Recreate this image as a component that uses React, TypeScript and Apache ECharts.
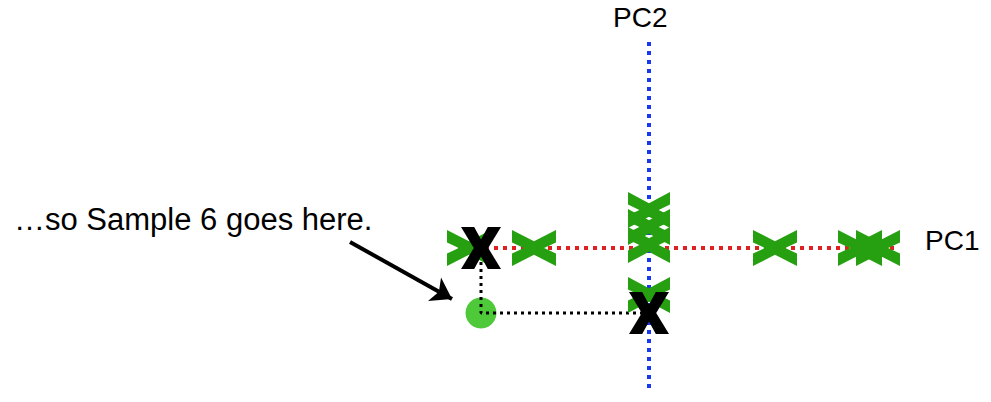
import React, { useEffect, useRef } from "react";
import * as echarts from "echarts";

// Sample projections (PC score units)
const pc1Scores = [-9.0, -5.75, 6.3, 10.55, 11.45];
const pc2Scores = [1.9, 1.05, 0.15, -2.35];
const sample6PC1 = -8.4;
const sample6PC2 = -3.25;
const pc1Extent = [-9.55, 12.4];
const pc2Extent = [-7.0, 10.3];
const arrowStart = [-14.95, 0.3];
const arrowEnd = [-9.85, -2.55];
const annotationText = "…so Sample 6 goes here.";
const axisNames = ["PC1", "PC2"];

// green marks: X with vertical end cuts
const GREEN_X =
  "path://M0,0 L50,31 L100,0 L100,35 L73,50 L100,65 L100,100 L50,69 L0,100 L0,65 L27,50 L0,35 Z";
// black marks: bold letter X with horizontal end cuts
const BLACK_X =
  "path://M0,0 L33,0 L50,30 L67,0 L100,0 L68,50 L100,100 L67,100 L50,70 L33,100 L0,100 L32,50 Z";

export default function App() {
  const ref = useRef<HTMLDivElement>(null);
  useEffect(() => {
    if (!ref.current) return;
    const chart = echarts.init(ref.current, null, { renderer: "svg" });
    const green = "#26a010";
    const font = "'Liberation Sans', Arial, sans-serif";
    chart.setOption({
      animation: false,
      grid: { left: 0, right: 0, top: 0, bottom: 0 },
      xAxis: { type: "value", min: -32.45, max: 17.1, show: false },
      yAxis: { type: "value", min: -7.7, max: 12.4, show: false },
      graphic: [
        {
          type: "text",
          left: 14,
          top: 204,
          style: { text: annotationText, fontSize: 31, fill: "#000", fontFamily: font },
        },
        {
          type: "text",
          left: 613,
          top: 3,
          style: { text: axisNames[1], fontSize: 28, fill: "#000", fontFamily: font },
        },
        {
          type: "text",
          left: 925,
          top: 226,
          style: { text: axisNames[0], fontSize: 28, fill: "#000", fontFamily: font },
        },
      ],
      series: [
        {
          type: "line",
          z: 2,
          symbol: "none",
          lineStyle: { color: "#e02020", width: 4, type: [4, 5] },
          data: [
            [pc1Extent[0], 0],
            [pc1Extent[1], 0],
          ],
        },
        {
          type: "line",
          z: 2,
          symbol: "none",
          lineStyle: { color: "#1638f0", width: 4, type: [4, 5] },
          data: [
            [0, pc2Extent[0]],
            [0, pc2Extent[1]],
          ],
        },
        {
          type: "scatter",
          z: 3,
          symbol: GREEN_X,
          symbolSize: [44, 36],
          symbolKeepAspect: false,
          itemStyle: { color: green, opacity: 1 },
          data: pc1Scores.map((v) => [v, 0]),
        },
        {
          type: "scatter",
          z: 3,
          symbol: GREEN_X,
          symbolSize: [42, 36],
          symbolKeepAspect: false,
          itemStyle: { color: green, opacity: 1 },
          data: pc2Scores.map((v) => [0, v]),
        },
        {
          type: "line",
          z: 3,
          symbol: "none",
          lineStyle: { color: "#000", width: 3, type: [3, 4] },
          data: [
            [sample6PC1, 0],
            [sample6PC1, sample6PC2],
            [0, sample6PC2],
          ],
        },
        {
          type: "scatter",
          z: 2,
          symbol: "circle",
          symbolSize: 31,
          itemStyle: { color: "#4ec93a", opacity: 1 },
          data: [[sample6PC1, sample6PC2]],
        },
        {
          type: "scatter",
          z: 4,
          symbol: BLACK_X,
          symbolSize: [40, 42],
          symbolKeepAspect: false,
          itemStyle: { color: "#000", opacity: 1 },
          data: [
            [sample6PC1, 0],
            [0, sample6PC2],
          ],
        },
        {
          type: "lines",
          coordinateSystem: "cartesian2d",
          z: 5,
          symbol: ["none", "arrow"],
          symbolSize: 20,
          lineStyle: { color: "#000", width: 4, opacity: 1 },
          data: [{ coords: [arrowStart, arrowEnd] }],
        },
      ],
    });
    return () => chart.dispose();
  }, []);
  return (
    <div
      ref={ref}
      style={{ position: "absolute", left: 0, top: 0, width: 991, height: 402, background: "#fff" }}
    />
  );
}
